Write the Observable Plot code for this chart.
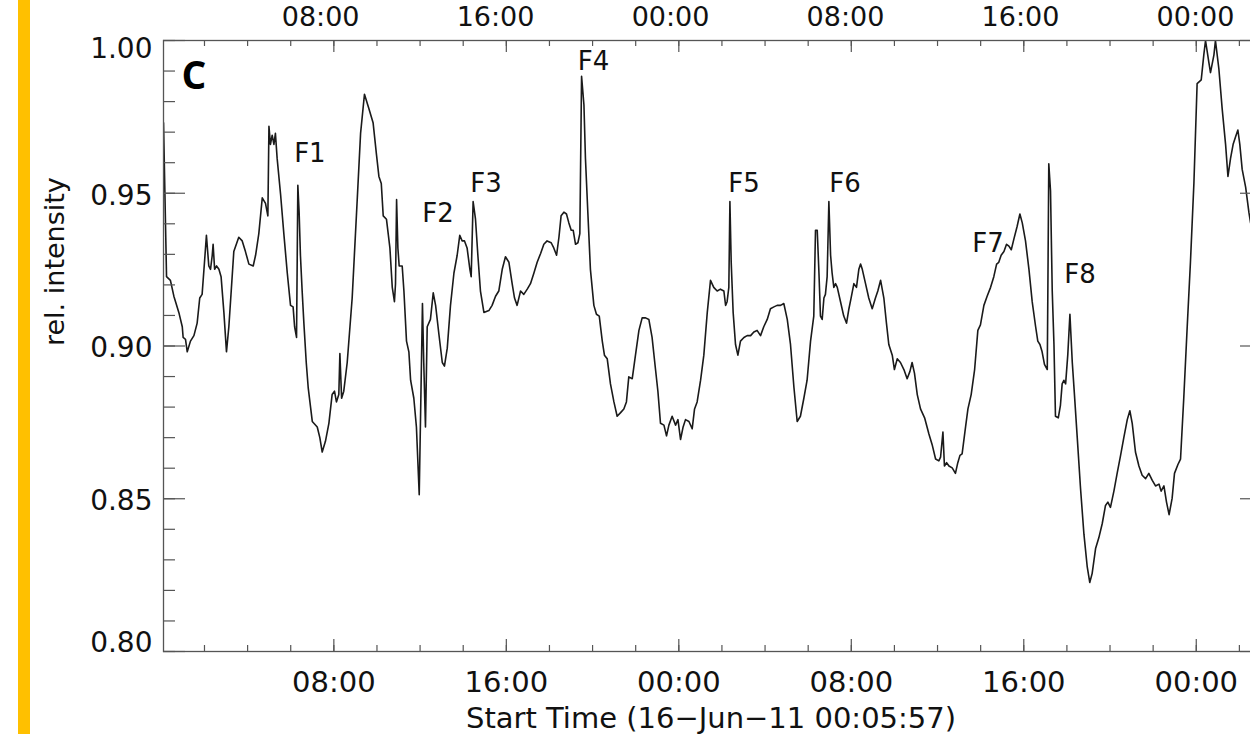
<!DOCTYPE html>
<html><head><meta charset="utf-8">
<script src="https://cdn.jsdelivr.net/npm/d3@7"></script>
<script src="https://cdn.jsdelivr.net/npm/@observablehq/plot@0.6"></script>
<style>
html,body{margin:0;padding:0;background:#fff;}
#wrap{position:relative;width:1250px;height:734px;overflow:hidden;background:#fff;}
#bar{position:absolute;left:18px;top:0;width:12px;height:734px;background:#FFC000;}
#main,#upper{position:absolute;left:0;top:0;width:1290px;}
#main svg,#upper svg{max-width:none !important;height:auto;display:block;}
</style></head><body>
<div id="wrap"><div id="bar"></div><div id="main"></div><div id="upper"></div></div>
<script>
// hours since 16-Jun-2011 00:00 UT
const hours = [0.10,0.24,0.42,0.58,0.81,0.97,1.01,1.12,1.20,1.35,1.51,1.66,1.78,1.89,2.00,2.09,2.20,2.28,2.36,2.40,2.47,2.56,2.67,2.77,2.90,3.02,3.13,3.24,3.36,3.59,3.75,3.90,4.06,4.26,4.37,4.52,4.68,4.83,4.94,4.99,5.06,5.14,5.22,5.29,5.37,5.53,5.68,5.84,5.99,6.11,6.18,6.27,6.33,6.39,6.45,6.53,6.61,6.72,6.81,7.00,7.23,7.35,7.46,7.61,7.77,7.92,8.03,8.12,8.23,8.28,8.36,8.46,8.62,8.85,9.08,9.24,9.42,9.62,9.82,9.98,10.09,10.20,10.29,10.44,10.60,10.71,10.81,10.86,10.91,10.97,11.03,11.17,11.25,11.37,11.48,11.56,11.71,11.83,11.96,12.05,12.11,12.17,12.25,12.33,12.48,12.61,12.72,12.87,13.03,13.13,13.26,13.41,13.57,13.72,13.84,13.95,14.06,14.18,14.31,14.37,14.46,14.57,14.68,14.80,14.96,15.19,15.34,15.50,15.65,15.81,15.96,16.12,16.27,16.38,16.50,16.66,
16.81,16.97,17.12,17.28,17.43,17.59,17.74,17.89,18.08,18.20,18.33,18.44,18.54,18.67,18.79,18.90,19.01,19.10,19.21,19.32,19.41,19.49,19.60,19.67,19.78,19.90,20.06,20.18,20.31,20.45,20.55,20.68,20.83,20.99,21.14,21.30,21.45,21.57,21.68,21.84,21.99,22.15,22.30,22.46,22.61,22.76,22.92,23.03,23.15,23.31,23.43,23.54,23.69,23.85,23.96,24.08,24.20,24.31,24.47,24.62,24.73,24.85,25.01,25.16,25.32,25.47,25.62,25.78,25.93,26.09,26.17,26.24,26.32,26.37,26.43,26.52,26.63,26.74,26.86,27.02,27.17,27.33,27.48,27.63,27.79,27.94,28.10,28.25,28.41,28.56,28.72,28.87,29.03,29.18,29.34,29.49,29.64,29.80,29.95,30.11,30.26,30.34,30.42,30.50,30.57,30.65,30.73,30.80,30.88,30.96,31.04,31.11,31.19,31.27,31.35,31.50,31.65,31.78,31.89,31.99,32.12,32.24,32.35,32.43,32.51,32.66,32.81,32.97,33.12,33.23,33.36,
33.51,33.63,33.74,33.90,34.00,34.13,34.28,34.44,34.59,34.72,34.82,34.93,35.06,35.21,35.40,35.60,35.75,35.91,36.06,36.14,36.25,36.32,36.42,36.53,36.68,36.83,36.94,37.04,37.14,37.30,37.41,37.56,37.72,37.87,37.99,38.15,38.30,38.46,38.61,38.74,38.84,38.95,39.08,39.20,39.31,39.42,39.54,39.69,39.82,39.93,40.08,40.24,40.39,40.55,40.65,40.75,40.85,40.96,41.09,41.16,41.24,41.32,41.40,41.47,41.60,41.70,41.78,41.86,41.94,42.04,42.14,42.25,42.35,42.48,42.63,42.79,42.94,43.06,43.17,43.33,43.48,43.64,43.79,43.90,44.02,44.18,44.33,44.49,44.64,44.80,44.92,45.03,45.18,45.34,45.49,45.65,45.80,45.96,46.11,46.27,46.37,46.50,46.62,46.74,46.88,46.99,47.15,47.27,47.42,47.58,47.73,47.89,48.04,48.23,48.35,48.43,48.58,48.66,48.82,48.89,49.05,49.20,49.36,49.47,49.59,49.71,49.82,49.93,50.02,50.13,50.29,50.44,50.52];
const intensity = [0.9731,0.9227,0.9215,0.9163,0.9110,0.9063,0.9028,0.9022,0.8981,0.9016,0.9034,0.9075,0.9157,0.9169,0.9274,0.9362,0.9262,0.9251,0.9297,0.9333,0.9251,0.9262,0.9251,0.9227,0.9110,0.8981,0.9063,0.9180,0.9309,0.9356,0.9344,0.9309,0.9268,0.9262,0.9297,0.9368,0.9485,0.9467,0.9426,0.9719,0.9660,0.9690,0.9660,0.9696,0.9614,0.9496,0.9368,0.9239,0.9133,0.9128,0.9063,0.9028,0.9526,0.9438,0.9297,0.9180,0.9075,0.8946,0.8864,0.8753,0.8735,0.8700,0.8653,0.8688,0.8747,0.8841,0.8852,0.8817,0.8841,0.8975,0.8829,0.8852,0.8946,0.9157,0.9473,0.9696,0.9824,0.9778,0.9731,0.9625,0.9555,0.9532,0.9426,0.9415,0.9321,0.9192,0.9145,0.9204,0.9479,0.9321,0.9262,0.9262,0.9180,0.9016,0.8981,0.8888,0.8829,0.8735,0.8513,0.8888,0.9139,0.8946,0.8735,0.9063,0.9087,0.9174,0.9133,0.9040,0.8946,0.8934,0.8993,0.9133,0.9239,0.9297,0.9362,0.9344,0.9344,0.9321,0.9251,0.9227,0.9473,0.9415,0.9297,0.9180,0.9110,0.9116,0.9133,0.9163,0.9180,0.9251,0.9292,0.9274,0.9204,0.9157,0.9133,0.9180,
0.9169,0.9186,0.9204,0.9239,0.9274,0.9303,0.9333,0.9344,0.9338,0.9321,0.9297,0.9356,0.9426,0.9438,0.9432,0.9403,0.9379,0.9379,0.9333,0.9338,0.9368,0.9883,0.9789,0.9614,0.9438,0.9251,0.9133,0.9104,0.9098,0.9016,0.8970,0.8958,0.8876,0.8817,0.8770,0.8782,0.8794,0.8817,0.8899,0.8893,0.8970,0.9051,0.9092,0.9092,0.9087,0.9028,0.8923,0.8852,0.8747,0.8741,0.8706,0.8741,0.8770,0.8741,0.8759,0.8694,0.8735,0.8759,0.8753,0.8729,0.8794,0.8817,0.8888,0.8970,0.9110,0.9215,0.9192,0.9180,0.9186,0.9180,0.9133,0.9145,0.9192,0.9473,0.9274,0.9110,0.9005,0.8970,0.9016,0.9028,0.9034,0.9034,0.9046,0.9051,0.9034,0.9063,0.9087,0.9122,0.9128,0.9133,0.9133,0.9139,0.9087,0.9005,0.8864,0.8753,0.8770,0.8829,0.8888,0.9016,0.9098,0.9379,0.9379,0.9239,0.9098,0.9087,0.9157,0.9169,0.9227,0.9473,0.9297,0.9239,0.9192,0.9204,0.9192,0.9145,0.9098,0.9075,0.9122,0.9157,0.9204,0.9192,0.9251,0.9268,0.9251,0.9204,0.9157,0.9122,0.9157,0.9180,0.9215,
0.9157,0.9075,0.9005,0.8970,0.8923,0.8958,0.8946,0.8923,0.8893,0.8917,0.8946,0.8911,0.8841,0.8794,0.8765,0.8712,0.8677,0.8630,0.8624,0.8636,0.8718,0.8607,0.8618,0.8607,0.8601,0.8583,0.8618,0.8642,0.8647,0.8735,0.8794,0.8841,0.8923,0.9051,0.9069,0.9133,0.9163,0.9192,0.9227,0.9268,0.9274,0.9297,0.9309,0.9333,0.9327,0.9315,0.9350,0.9391,0.9432,0.9403,0.9344,0.9251,0.9145,0.9063,0.9016,0.9005,0.8981,0.8940,0.8923,0.9596,0.9508,0.9180,0.9005,0.8770,0.8765,0.8806,0.8876,0.8888,0.8876,0.8970,0.9104,0.8946,0.8841,0.8700,0.8536,0.8384,0.8279,0.8226,0.8255,0.8337,0.8372,0.8419,0.8478,0.8489,0.8472,0.8525,0.8583,0.8642,0.8700,0.8759,0.8788,0.8747,0.8653,0.8607,0.8577,0.8566,0.8583,0.8560,0.8542,0.8548,0.8525,0.8542,0.8489,0.8448,0.8501,0.8583,0.8612,0.8630,0.8829,0.9063,0.9274,0.9532,0.9859,0.9871,0.9953,1.0000,0.9930,0.9895,0.9953,1.0000,0.9906,0.9778,0.9660,0.9555,0.9614,0.9660,0.9684,0.9707,0.9660,0.9578,0.9520,0.9438,0.9403];

const flareLabels = ["F1","F2","F3","F4","F5","F6","F7","F8"];
const flareHours  = [6.89,12.83,15.06,20.04,27.02,31.71,38.34,42.61];
const flareValues = [0.9630,0.9432,0.9530,0.9930,0.9530,0.9530,0.9334,0.9235];

const xStart = "2011-06-16T00:05:57Z", xEnd = "2011-06-18T03:04:20Z";
const upperStart = "2011-06-16T00:49:00Z", upperEnd = "2011-06-18T03:04:00Z";
const majorTickHours = [8,16,24,32,40,48];
const minorTickHours = d3.range(2, 51, 2);
const yMajor = [0.80,0.85,0.90,0.95,1.00];
const yMinor = d3.range(80, 101).map(d => d/100);
const yLabel = "rel. intensity";
const xLabel = "Start Time (16\u2212Jun\u221211 00:05:57)";
const panelLabel = "C";

const T0 = Date.UTC(2011, 5, 16);
const toDate = h => new Date(T0 + h * 3600e3);
const series = hours.map((h, i) => ({t: toDate(h), v: intensity[i]}));
const flares = flareLabels.map((f, i) => ({t: toDate(flareHours[i]), v: flareValues[i], f}));
const majorT = majorTickHours.map(toDate);
const minorT = minorTickHours.map(toDate);
const fmt = d3.utcFormat("%H:%M");

const W = 1290, H = 734, ML = 163, MR = 28, MT = 40, MB = 83;
const iw = W - ML - MR, ih = H - MT - MB;
const ax = "#555";
const font = "DejaVu Sans";

const mainChart = Plot.plot({
  width: W, height: H, marginLeft: ML, marginRight: MR, marginTop: MT, marginBottom: MB,
  x: {type: "utc", domain: [new Date(xStart), new Date(xEnd)], axis: null},
  y: {domain: [0.8, 1.0], axis: null},
  style: {fontFamily: font, color: "#111", background: "transparent", overflow: "visible", maxWidth: "none"},
  marks: [
    Plot.line(series, {x: "t", y: "v", stroke: "#1a1a1a", strokeWidth: 1.6, clip: true}),
    Plot.frame({stroke: ax, strokeWidth: 1.3}),
    Plot.ruleX(majorT, {x: d => d, insetTop: ih - 12, stroke: ax, strokeWidth: 1.2}),
    Plot.ruleX(minorT, {x: d => d, insetTop: ih - 6, stroke: ax, strokeWidth: 1.2}),
    Plot.ruleX(majorT, {x: d => d, insetBottom: ih - 12, stroke: ax, strokeWidth: 1.2}),
    Plot.ruleX(minorT, {x: d => d, insetBottom: ih - 6, stroke: ax, strokeWidth: 1.2}),
    Plot.ruleY(yMajor, {y: d => d, insetRight: iw - 22, stroke: ax, strokeWidth: 1.2}),
    Plot.ruleY(yMinor, {y: d => d, insetRight: iw - 12, stroke: ax, strokeWidth: 1.2}),
    Plot.ruleY(yMajor, {y: d => d, insetLeft: iw - 22, stroke: ax, strokeWidth: 1.2}),
    Plot.ruleY(yMinor, {y: d => d, insetLeft: iw - 12, stroke: ax, strokeWidth: 1.2}),
    Plot.text(yMajor.filter(d => d > 0.8 && d < 1), {y: d => d, frameAnchor: "left", textAnchor: "end", lineAnchor: "middle", dx: -11, dy: 2.5, text: d => d.toFixed(2), fontSize: 28, fill: "#111"}),
    Plot.text(yMajor.filter(d => d >= 1), {y: d => d, frameAnchor: "left", textAnchor: "end", lineAnchor: "middle", dx: -11, dy: 9, text: d => d.toFixed(2), fontSize: 28, fill: "#111"}),
    Plot.text(yMajor.filter(d => d <= 0.8), {y: d => d, frameAnchor: "left", textAnchor: "end", lineAnchor: "middle", dx: -11, dy: -8, text: d => d.toFixed(2), fontSize: 28, fill: "#111"}),
    Plot.text(majorT, {x: d => d, frameAnchor: "bottom", lineAnchor: "middle", dy: 31.5, text: d => fmt(d), fontSize: 29, fill: "#111"}),
    Plot.text([xLabel], {frameAnchor: "bottom", lineAnchor: "middle", dx: -2, dy: 67, text: d => d, fontSize: 29, fill: "#111"}),
    Plot.text([yLabel], {frameAnchor: "left", lineAnchor: "middle", dx: -108, rotate: -90, text: d => d, fontSize: 27, fill: "#111"}),
    Plot.text([panelLabel], {frameAnchor: "top-left", dx: 18, dy: 21, textAnchor: "start", lineAnchor: "top", text: d => d, fontSize: 39, fontWeight: "bold", fontFamily: "Open Sans", fill: "#000"}),
    Plot.text(flares, {x: "t", y: "v", text: "f", fontSize: 26, fill: "#111"})
  ]
});
document.getElementById("main").appendChild(mainChart);

// tick labels of the panel above (cut off at the top of the picture)
const upperAxis = Plot.plot({
  width: W, height: 40, marginLeft: ML, marginRight: MR, marginTop: 0, marginBottom: 0,
  x: {type: "utc", domain: [new Date(upperStart), new Date(upperEnd)], axis: null},
  y: {axis: null},
  style: {fontFamily: font, color: "#111", background: "transparent", overflow: "visible", maxWidth: "none"},
  marks: [
    Plot.text(majorT, {x: d => d, frameAnchor: "top", lineAnchor: "middle", dy: 17, text: d => fmt(d), fontSize: 27, fill: "#111"})
  ]
});
document.getElementById("upper").appendChild(upperAxis);
</script></body></html>
